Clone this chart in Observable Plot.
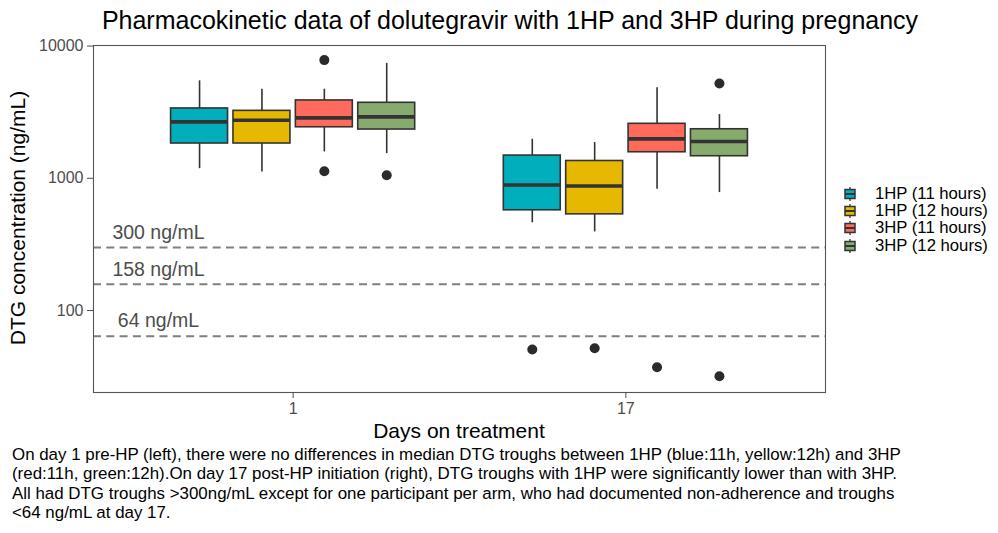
<!DOCTYPE html>
<html>
<head>
<meta charset="utf-8">
<script src="https://cdn.jsdelivr.net/npm/d3@7"></script>
<script src="https://cdn.jsdelivr.net/npm/@observablehq/plot@0.6"></script>
<style>
  html, body { margin: 0; padding: 0; background: #fff; }
  body { font-family: "Liberation Sans", Arial, Helvetica, sans-serif; }
  #wrap { position: relative; width: 998px; height: 533px; overflow: hidden; background: #fff; }
  .layer { position: absolute; left: 0; top: 0; }
  .title { position: absolute; left: 510px; top: 5px; transform: translateX(-50%); font-size: 25px; line-height: 30px; color: #000; white-space: nowrap; }
  .ytitle { position: absolute; left: 18px; top: 218px; transform: translate(-50%, -50%) rotate(-90deg); font-size: 21px; white-space: nowrap; color: #000; }
  .xtitle { position: absolute; left: 459px; top: 431px; transform: translate(-50%, -50%); font-size: 21px; white-space: nowrap; color: #000; }
  .legend { position: absolute; left: 844px; top: 185px; font-size: 16.7px; color: #000; }
  .legend .item { display: flex; align-items: center; height: 17.3px; white-space: nowrap; }
  .legend svg { margin-right: 19px; }
  .caption { position: absolute; left: 12px; top: 445px; font-size: 16.9px; line-height: 19.4px; color: #000; white-space: nowrap; }
</style>
</head>
<body>
<div id="wrap">
  <div class="layer" id="base"></div>
  <div class="layer" id="boxes"></div>
  <div class="title" id="title"></div>
  <div class="ytitle" id="ytitle"></div>
  <div class="xtitle" id="xtitle"></div>
  <div class="legend" id="legend"></div>
  <div class="caption" id="caption"></div>
</div>
<script>
// ---- data ----
const days = ["1", "17"];
const groups = ["1HP (11 hours)", "1HP (12 hours)", "3HP (11 hours)", "3HP (12 hours)"];
const colors = ["#00AFBB", "#E7B800", "#FF6A5C", "#87AB6E"];

// order: day 1 (4 groups), then day 17 (4 groups)
const whiskerLow  = [1183, 1117, 1583, 1538, 461, 393, 826, 780];
const quartile1   = [1833, 1833, 2432, 2338, 573, 534, 1574, 1469];
const medians     = [2673, 2749, 2865, 2917, 889, 875, 1986, 1896];
const quartile3   = [3375, 3237, 3880, 3724, 1486, 1352, 2583, 2349];
const whiskerHigh = [5460, 4720, 4720, 7395, 1973, 1862, 4831, 3033];

const outlierDay   = ["1", "1", "1", "17", "17", "17", "17", "17"];
const outlierGroup = ["3HP (11 hours)", "3HP (11 hours)", "3HP (12 hours)",
                      "1HP (11 hours)", "1HP (12 hours)", "3HP (11 hours)", "3HP (12 hours)", "3HP (12 hours)"];
const outlierValue = [7834, 1130, 1054, 50.7, 51.9, 37.3, 5212, 31.8];

const thresholds = [300, 158, 64];
const thresholdLabels = ["300 ng/mL", "158 ng/mL", "64 ng/mL"];

const yTicks = [100, 1000, 10000];

const titleText = "Pharmacokinetic data of dolutegravir with 1HP and 3HP during pregnancy";
const yLabel = "DTG concentration (ng/mL)";
const xLabel = "Days on treatment";
const captionLines = [
  "On day 1 pre-HP (left), there were no differences in median DTG troughs between 1HP (blue:11h, yellow:12h) and 3HP",
  "(red:11h, green:12h).On day 17 post-HP initiation (right), DTG troughs with 1HP were significantly lower than with 3HP.",
  "All had DTG troughs >300ng/mL except for one participant per arm, who had documented non-adherence and troughs",
  "<64 ng/mL at day 17."
];

// ---- tables built from the arrays ----
const boxes = [];
days.forEach((d, i) => groups.forEach((g, j) => {
  const k = i * groups.length + j;
  boxes.push({day: d, group: g, lo: whiskerLow[k], q1: quartile1[k], med: medians[k], q3: quartile3[k], hi: whiskerHigh[k]});
}));
const outliers = outlierValue.map((v, i) => ({day: outlierDay[i], group: outlierGroup[i], value: v}));
const thr = thresholds.map((v, i) => ({value: v, label: thresholdLabels[i]}));

const dark = "#333333";
const common = {
  width: 998,
  height: 448,
  marginTop: 45,
  marginBottom: 56,
  marginLeft: 93,
  marginRight: 173,
  style: {fontFamily: "'Liberation Sans', Arial, Helvetica, sans-serif", fontSize: "16px", background: "transparent", overflow: "visible"},
};
const yScale = {type: "log", domain: [24, 10100]};

// base layer: whole-panel elements (threshold lines, labels, y axis, panel border)
const base = Plot.plot({
  ...common,
  y: {...yScale, axis: null},
  marks: [
    Plot.ruleY(thr, {y: "value", stroke: "#7f7f7f", strokeWidth: 2, strokeDasharray: "8,5.3"}),
    Plot.text(thr, {y: "value", text: "label", frameAnchor: "left", dx: 65, dy: -15, textAnchor: "middle",
                    fontSize: 19.5, fill: "#4d4d4d"}),
    Plot.axisY({ticks: yTicks, tickFormat: d => String(d), tickSize: 6, tickPadding: 4, fontSize: 16,
                color: "#4d4d4d", stroke: "#4d4d4d", label: null}),
    Plot.frame({stroke: "#555555", strokeWidth: 1.1})
  ]
});

// box layer: faceted by day, dodged by group
const boxLayer = Plot.plot({
  ...common,
  fx: {domain: days, paddingInner: 0.25, paddingOuter: 0.225, round: false, label: null},
  x: {domain: groups, paddingInner: 0.087, paddingOuter: 0.0435, round: false, axis: null},
  y: {...yScale, axis: null},
  color: {domain: groups, range: colors},
  marks: [
    Plot.ruleX(boxes, {fx: "day", x: "group", y1: "q3", y2: "hi", stroke: dark, strokeWidth: 1.6}),
    Plot.ruleX(boxes, {fx: "day", x: "group", y1: "lo", y2: "q1", stroke: dark, strokeWidth: 1.6}),
    Plot.rect(boxes, {fx: "day", x: "group", y1: "q1", y2: "q3", fill: "group", stroke: dark, strokeWidth: 1.6}),
    Plot.tickY(boxes, {fx: "day", x: "group", y: "med", stroke: dark, strokeWidth: 3.6}),
    Plot.dot(outliers, {fx: "day", x: "group", y: "value", r: 5, fill: "#2b2b2b", stroke: "none"}),
    Plot.axisFx({anchor: "bottom", tickSize: 6, tickPadding: 4, fontSize: 16, color: "#4d4d4d", label: null})
  ]
});

document.getElementById("base").appendChild(base);
document.getElementById("boxes").appendChild(boxLayer);

document.getElementById("title").textContent = titleText;
document.getElementById("ytitle").textContent = yLabel;
document.getElementById("xtitle").textContent = xLabel;

const cap = document.getElementById("caption");
captionLines.forEach((l, i) => {
  if (i) cap.appendChild(document.createElement("br"));
  cap.appendChild(document.createTextNode(l));
});

const legend = document.getElementById("legend");
const NS = "http://www.w3.org/2000/svg";
groups.forEach((g, i) => {
  const item = document.createElement("div");
  item.className = "item";
  const s = document.createElementNS(NS, "svg");
  s.setAttribute("width", 12); s.setAttribute("height", 14);
  s.innerHTML =
    `<line x1="6" x2="6" y1="0" y2="14" stroke="${dark}" stroke-width="1.3"/>` +
    `<rect x="1" y="2.5" width="10" height="9" fill="${colors[i]}" stroke="${dark}" stroke-width="1.5"/>` +
    `<line x1="1" x2="11" y1="7" y2="7" stroke="${dark}" stroke-width="2"/>`;
  item.appendChild(s);
  const t = document.createElement("span");
  t.textContent = g;
  item.appendChild(t);
  legend.appendChild(item);
});
</script>
</body>
</html>
